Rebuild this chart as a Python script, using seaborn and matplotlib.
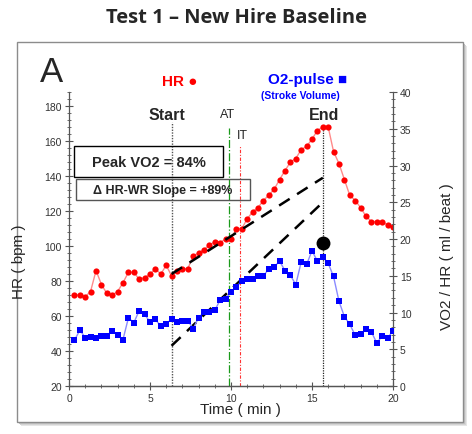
import numpy as np
import pandas as pd
import seaborn as sns
import matplotlib.pyplot as plt
import matplotlib.transforms as mtransforms
from matplotlib.patches import Rectangle
from matplotlib.ticker import MultipleLocator

# data (one sample every 20 s)
time_min = [0.33, 0.67, 1.0, 1.33, 1.67, 2.0, 2.33, 2.67, 3.0, 3.33,
            3.67, 4.0, 4.33, 4.67, 5.0, 5.33, 5.67, 6.0, 6.33, 6.67,
            7.0, 7.33, 7.67, 8.0, 8.33, 8.67, 9.0, 9.33, 9.67, 10.0,
            10.33, 10.67, 11.0, 11.33, 11.67, 12.0, 12.33, 12.67, 13.0, 13.33,
            13.67, 14.0, 14.33, 14.67, 15.0, 15.33, 15.67, 16.0, 16.33, 16.67,
            17.0, 17.33, 17.67, 18.0, 18.33, 18.67, 19.0, 19.33, 19.67, 20.0]
hr_bpm = [72, 72, 71, 74, 86, 78, 73, 72, 74, 79,
          85, 85, 81, 82, 84, 87, 84, 89, 83, 86,
          87, 87, 94.5, 96, 98, 100.5, 102.5, 102, 104, 104,
          110, 110, 115.5, 119.5, 122, 126, 129, 132.5, 138, 143,
          148, 150, 155, 157, 161, 166, 168, 168, 154, 147,
          138, 129, 126, 122, 117, 114, 114, 114, 112, 111]
o2_pulse = [6.2, 7.6, 6.6, 6.7, 6.55, 6.75, 6.85, 7.55, 6.9, 6.3,
            9.3, 8.6, 10.25, 9.75, 8.7, 9.05, 8.15, 8.4, 9.15, 8.75,
            8.9, 8.9, 7.8, 9.3, 10.05, 10.1, 10.3, 11.7, 11.9, 12.8,
            13.5, 14.25, 14.5, 14.6, 15.0, 15.0, 15.9, 16.2, 17.0, 15.7,
            15.05, 13.8, 16.85, 16.55, 18.4, 17.0, 17.6, 16.7, 14.9, 11.5,
            9.45, 8.4, 6.9, 7.1, 7.7, 7.35, 5.85, 6.8, 6.5, 7.55]

# HR-WR slope lines (start -> end), in bpm
slope_t = [6.33, 15.67]
slope_hr_upper = [84, 139]
slope_hr_lower = [43, 125]

peak_t = [15.67]
peak_o2 = [19.4]

t_start, t_at, t_it, t_end = 6.33, 9.86, 10.53, 15.67

df = pd.DataFrame({'time': time_min, 'hr': hr_bpm, 'o2': o2_pulse})

sns.set_style('ticks')
plt.rcParams['font.family'] = ['Liberation Sans', 'DejaVu Sans']

fig = plt.figure(figsize=(4.72, 4.35), dpi=100)

# framed panel with soft shadow (kept below the axes)
for i, c in enumerate(['#e6e6e6', '#d4d4d4', '#c2c2c2']):
    off = (4 - i) / 472
    fig.patches.append(Rectangle((0.036 + off, 0.0276 - off * 472 / 435), 0.945, 0.8736,
                                 transform=fig.transFigure, facecolor=c, edgecolor='none', zorder=-3))
fig.patches.append(Rectangle((0.036, 0.0276), 0.945, 0.8736, transform=fig.transFigure,
                             facecolor='white', edgecolor='#8c8c8c', lw=1, zorder=-2))

ax = fig.add_axes([0.1462, 0.1103, 0.6864, 0.6759])
ax.set_facecolor('none')
ax2 = ax.twinx()

# HR (red circles)
sns.lineplot(data=df, x='time', y='hr', ax=ax, color='#ff8a8a', lw=1, zorder=3)
sns.scatterplot(data=df, x='time', y='hr', ax=ax, color='#ff0000', marker='o',
                s=20, linewidth=0, zorder=4)
# O2 pulse (blue squares)
sns.lineplot(data=df, x='time', y='o2', ax=ax2, color='#8a8aff', lw=1, zorder=3)
sns.scatterplot(data=df, x='time', y='o2', ax=ax2, color='#0000ff', marker='s',
                s=24, linewidth=0, zorder=4)
sns.scatterplot(x=peak_t, y=peak_o2, ax=ax2, color='black', s=100, linewidth=0, zorder=5)

# slope lines
sns.lineplot(x=slope_t, y=slope_hr_upper, ax=ax, color='black', lw=1.8, zorder=5)
ax.lines[-1].set_dashes([5, 3.5])
sns.lineplot(x=slope_t, y=slope_hr_lower, ax=ax, color='black', lw=1.8, zorder=5)
ax.lines[-1].set_dashes([5, 3.5])

# event markers
ax.axvline(t_start, ymax=0.899, color='#555555', lw=1.0, ls=(0, (1, 1)), zorder=2)
ax.axvline(t_at, ymax=0.878, color='#1a9a1a', lw=0.9, ls='-.', zorder=2)
ax.axvline(t_it, ymax=0.817, color='#ff3333', lw=0.8, ls=(0, (3, 1.5, 1, 1.5)), zorder=2)
ax.axvline(t_end, ymax=0.874, color='#222222', lw=0.9, ls=(0, (1, 1)), zorder=2)

trans = mtransforms.blended_transform_factory(ax.transData, ax.transAxes)
ax.text(t_start - 0.3, 0.925, 'Start', transform=trans, ha='center', va='center',
        fontsize=11.5, fontweight='bold')
ax.text(t_at - 0.1, 0.925, 'AT', transform=trans, ha='center', va='center', fontsize=9)
ax.text(t_it + 0.15, 0.855, 'IT', transform=trans, ha='center', va='center', fontsize=9)
ax.text(t_end + 0.1, 0.925, 'End', transform=trans, ha='center', va='center',
        fontsize=11.5, fontweight='bold')

# axes styling
ax.set_xlim(0, 20)
ax.set_ylim(20, 188)
ax2.set_ylim(0, 40)
ax.set_xticks([0, 5, 10, 15, 20])
ax.set_yticks(range(20, 181, 20))
ax2.set_yticks(range(0, 41, 5))
ax.xaxis.set_minor_locator(MultipleLocator(1))
ax.yaxis.set_minor_locator(MultipleLocator(4))
ax2.yaxis.set_minor_locator(MultipleLocator(1))
for a in (ax, ax2):
    a.spines['top'].set_visible(False)
    for s in a.spines.values():
        s.set_color('#555555')
        s.set_linewidth(0.9)
    a.tick_params(which='major', direction='inout', length=6, width=0.8, color='#555555',
                  labelsize=7.5, labelcolor='#333333', pad=2)
    a.tick_params(which='minor', direction='inout', length=3, width=0.6, color='#555555')
ax.spines['right'].set_visible(False)
ax2.spines['left'].set_visible(False)
ax.set_xlabel('')
ax.set_ylabel('')
ax2.set_ylabel('')

fig.text(19 / 472, 1 - 262 / 435, 'HR ( bpm )', rotation=90, ha='center', va='center', fontsize=11)
fig.text(447 / 472, 1 - 257 / 435, 'VO2 / HR ( ml / beat )', rotation=90, ha='center',
         va='center', fontsize=11)
fig.text(240 / 472, 1 - 410 / 435, 'Time ( min )', ha='center', va='center', fontsize=11)

# headings
fig.text(236 / 472, 1 - 18 / 435, 'Test 1 \u2013 New Hire Baseline', ha='center', va='center',
         fontsize=14.5, fontweight='bold', family=['Open Sans', 'DejaVu Sans'])
fig.text(51 / 472, 1 - 72 / 435, 'A', ha='center', va='center', fontsize=25)
fig.text(180 / 472, 1 - 82 / 435, 'HR \u25cf', ha='center', va='center', fontsize=11,
         fontweight='bold', color='#ff0000')
fig.text(308 / 472, 1 - 80 / 435, 'O2-pulse \u25a0', ha='center', va='center', fontsize=11,
         fontweight='bold', color='#0000ff')
fig.text(300 / 472, 1 - 96 / 435, '(Stroke Volume)', ha='center', va='center', fontsize=7.5,
         fontweight='bold', color='#0000ff')

# annotation boxes
fig.patches.append(Rectangle((0.1568, 0.5908), 0.3157, 0.0713, transform=fig.transFigure,
                             facecolor='none', edgecolor='black', lw=1, zorder=6))
fig.text(0.3146, 0.6264, 'Peak VO2 = 84%', ha='center', va='center', fontsize=10.5,
         fontweight='bold')
fig.patches.append(Rectangle((0.161, 0.5379), 0.3686, 0.0483, transform=fig.transFigure,
                             facecolor='none', edgecolor='#555555', lw=1, zorder=6))
fig.text(0.3453, 0.562, '\u0394 HR-WR Slope = +89%', ha='center', va='center', fontsize=9,
         fontweight='bold')

fig.savefig('out.png', dpi=100)
